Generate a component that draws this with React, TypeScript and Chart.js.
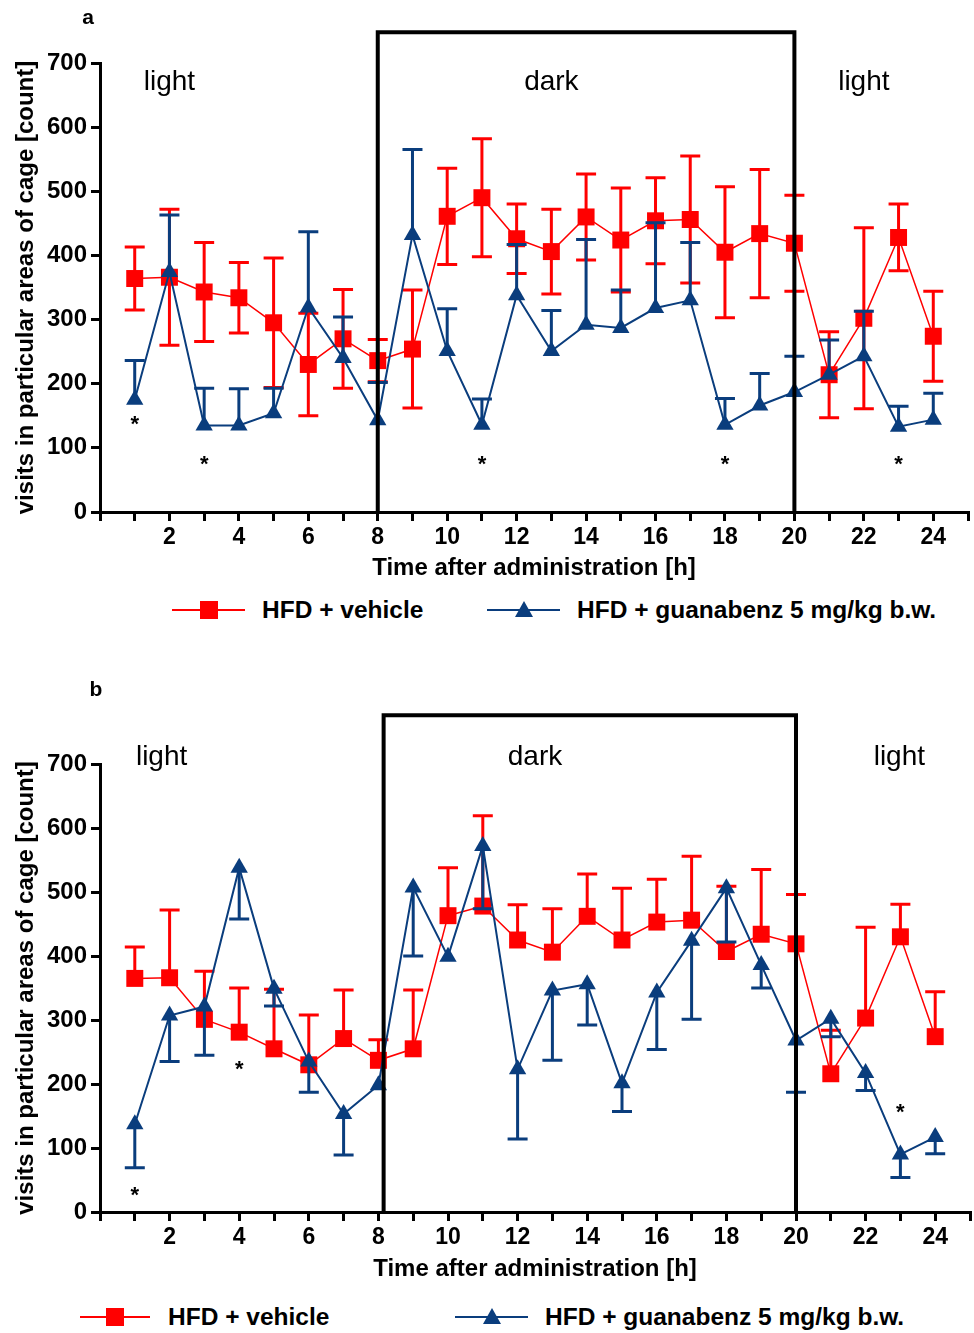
import React, { useEffect, useRef } from 'react';
import { Chart, registerables } from 'chart.js';

Chart.register(...registerables);

// ---------------- data ----------------
const hours = [1, 2, 3, 4, 5, 6, 7, 8, 9, 10, 11, 12, 13, 14, 15, 16, 17, 18, 19, 20, 21, 22, 23, 24];
const xTickValues = [0, 1, 2, 3, 4, 5, 6, 7, 8, 9, 10, 11, 12, 13, 14, 15, 16, 17, 18, 19, 20, 21, 22, 23, 24, 25];
const xTickLabels = ['2', '4', '6', '8', '10', '12', '14', '16', '18', '20', '22', '24'];
const yTickValues = [0, 100, 200, 300, 400, 500, 600, 700];

// panel a
const vehicleA = [364, 366, 343, 334, 295, 230, 270, 236, 254, 461, 490, 426, 406, 460, 424, 454, 456, 405, 434, 419, 214, 302, 428, 274];
const vehicleErrA = [49, 106, 77, 55, 101, 80, 77, 33, 92, 75, 92, 54, 66, 67, 81, 67, 99, 102, 100, 75, 67, 141, 52, 70];
const guanabenzA = [175, 374, 135, 135, 154, 319, 240, 143, 432, 251, 136, 338, 251, 292, 287, 318, 330, 136, 166, 187, 214, 243, 133, 144];
const guanabenzErrUpA = [61, 89, 58, 57, 39, 118, 64, 59, 133, 66, 40, 79, 63, 133, 59, 133, 90, 41, 50, 56, 54, 70, 32, 41];

// panel b
const vehicleB = [365, 366, 301, 281, 255, 230, 271, 237, 255, 463, 478, 425, 406, 462, 425, 453, 456, 407, 434, 419, 216, 303, 430, 274];
const vehicleErrUpB = [49, 106, 75, 69, 93, 78, 76, 32, 92, 75, 141, 55, 68, 66, 81, 67, 100, 102, 101, 77, 68, 142, 51, 70];
const guanabenzB = [137, 307, 321, 538, 349, 235, 153, 198, 507, 399, 572, 223, 346, 356, 201, 343, 424, 506, 386, 268, 302, 217, 90, 117];
const guanabenzErrDownB = [68, 72, 76, 80, 27, 48, 64, 0, 107, 0, 98, 109, 109, 64, 44, 89, 123, 84, 36, 81, 28, 27, 36, 26];

// annotations
const starsAX = [1, 3, 11, 18, 23];
const starsAY = [147, 84, 84, 84, 84];
const starsBX = [1, 4, 23];
const starsBY = [36, 233, 166];
const phaseLabels = ['light', 'dark', 'light'];
const phaseXA = [2, 13, 22];
const phaseYA = 670;
const phaseXB = [1.77, 12.5, 22.97];
const phaseYB = 711;
const darkBoxA = [8, 20, 748];
const darkBoxB = [8.15, 20, 776];

const seriesNames = ['HFD + vehicle', 'HFD + guanabenz 5 mg/kg b.w.'];

const RED = '#ff0000';
const BLUE = '#0a3d7d';
const FONT = '"Liberation Sans", Arial, Helvetica, sans-serif';

type PanelCfg = {
  letter: string;
  letterPos: [number, number];
  vehicle: number[];
  vehUp: number[];
  vehDown: number[];
  guan: number[];
  guanUp: number[];
  guanDown: number[];
  starsX: number[];
  starsY: number[];
  phaseX: number[];
  phaseY: number;
  box: number[];
  padTop: number;
  padRight: number;
  xHeight: number;
  canvasHeight: number;
};

const zeros = hours.map(() => 0);

const panelA: PanelCfg = {
  letter: 'a',
  letterPos: [88, 18],
  vehicle: vehicleA,
  vehUp: vehicleErrA,
  vehDown: vehicleErrA,
  guan: guanabenzA,
  guanUp: guanabenzErrUpA,
  guanDown: zeros,
  starsX: starsAX,
  starsY: starsAY,
  phaseX: phaseXA,
  phaseY: phaseYA,
  box: darkBoxA,
  padTop: 63,
  padRight: 6,
  xHeight: 71,
  canvasHeight: 583,
};

const panelB: PanelCfg = {
  letter: 'b',
  letterPos: [96, 30],
  vehicle: vehicleB,
  vehUp: vehicleErrUpB,
  vehDown: zeros,
  guan: guanabenzB,
  guanUp: zeros,
  guanDown: guanabenzErrDownB,
  starsX: starsBX,
  starsY: starsBY,
  phaseX: phaseXB,
  phaseY: phaseYB,
  box: darkBoxB,
  padTop: 104,
  padRight: 4,
  xHeight: 72,
  canvasHeight: 624,
};

function makePlugin(cfg: PanelCfg) {
  const errs = [
    { up: cfg.vehUp, down: cfg.vehDown, vals: cfg.vehicle, color: RED },
    { up: cfg.guanUp, down: cfg.guanDown, vals: cfg.guan, color: BLUE },
  ];
  return {
    id: 'panelDecor',
    beforeDatasetDraw(chart: any, args: any) {
      const e = errs[args.index];
      if (!e) return;
      const ctx = chart.ctx;
      const xs = chart.scales.x;
      const ys = chart.scales.y;
      ctx.save();
      ctx.strokeStyle = e.color;
      ctx.lineWidth = 3;
      const cap = 10;
      hours.forEach((h, i) => {
        const px = xs.getPixelForValue(h);
        const v = e.vals[i];
        const top = v + (e.up[i] || 0);
        const bot = v - (e.down[i] || 0);
        const pt = ys.getPixelForValue(top);
        const pb = ys.getPixelForValue(bot);
        ctx.beginPath();
        ctx.moveTo(px, pt);
        ctx.lineTo(px, pb);
        if (e.up[i] > 0) {
          ctx.moveTo(px - cap, pt);
          ctx.lineTo(px + cap, pt);
        }
        if (e.down[i] > 0) {
          ctx.moveTo(px - cap, pb);
          ctx.lineTo(px + cap, pb);
        }
        ctx.stroke();
      });
      ctx.restore();
    },
    afterDatasetsDraw(chart: any) {
      const ctx = chart.ctx;
      const xs = chart.scales.x;
      const ys = chart.scales.y;
      ctx.save();
      // dark phase box
      const x0 = xs.getPixelForValue(cfg.box[0]);
      const x1 = xs.getPixelForValue(cfg.box[1]);
      const yt = ys.getPixelForValue(cfg.box[2]);
      const yb = ys.getPixelForValue(0);
      ctx.strokeStyle = '#000';
      ctx.lineWidth = 4;
      ctx.beginPath();
      ctx.moveTo(x0, yb);
      ctx.lineTo(x0, yt);
      ctx.lineTo(x1, yt);
      ctx.lineTo(x1, yb);
      ctx.stroke();
      // phase labels
      ctx.fillStyle = '#000';
      ctx.font = `28px ${FONT}`;
      ctx.textAlign = 'center';
      ctx.textBaseline = 'middle';
      phaseLabels.forEach((t, i) => {
        ctx.fillText(t, xs.getPixelForValue(cfg.phaseX[i]), ys.getPixelForValue(cfg.phaseY));
      });
      // significance stars
      ctx.font = `bold 22px ${FONT}`;
      ctx.textBaseline = 'alphabetic';
      cfg.starsX.forEach((sx, i) => {
        ctx.fillText('*', xs.getPixelForValue(sx), ys.getPixelForValue(cfg.starsY[i]) + 13);
      });
      // panel letter
      ctx.font = `bold 21px ${FONT}`;
      ctx.textBaseline = 'middle';
      ctx.fillText(cfg.letter, cfg.letterPos[0], cfg.letterPos[1]);
      ctx.restore();
    },
  };
}

function Panel({ cfg, top }: { cfg: PanelCfg; top: number }) {
  const ref = useRef<HTMLCanvasElement | null>(null);
  useEffect(() => {
    if (!ref.current) return;
    const chart = new Chart(ref.current, {
      type: 'line',
      data: {
        datasets: [
          {
            label: seriesNames[0],
            data: hours.map((h, i) => ({ x: h, y: cfg.vehicle[i] })),
            borderColor: RED,
            backgroundColor: RED,
            borderWidth: 1.5,
            pointStyle: 'rect',
            pointRadius: 12,
            pointBorderWidth: 0,
            pointBackgroundColor: RED,
            tension: 0,
            order: 1,
            clip: false,
          } as any,
          {
            label: seriesNames[1],
            data: hours.map((h, i) => ({ x: h, y: cfg.guan[i] })),
            borderColor: BLUE,
            backgroundColor: BLUE,
            borderWidth: 2,
            pointStyle: 'triangle',
            pointRadius: 10,
            pointBorderWidth: 0,
            pointBackgroundColor: BLUE,
            tension: 0,
            order: 0,
            clip: false,
          } as any,
        ],
      },
      options: {
        responsive: false,
        animation: false,
        devicePixelRatio: 1,
        layout: { autoPadding: false, padding: { top: cfg.padTop, right: cfg.padRight, left: 0, bottom: 0 } },
        plugins: { legend: { display: false }, tooltip: { enabled: false } },
        scales: {
          x: {
            type: 'linear',
            min: 0,
            max: 25,
            afterBuildTicks: (s: any) => {
              s.ticks = xTickValues.map((v) => ({ value: v }));
            },
            afterFit: (s: any) => {
              s.height = cfg.xHeight;
              s.paddingLeft = 0;
              s.paddingRight = 0;
            },
            ticks: {
              autoSkip: false,
              maxRotation: 0,
              padding: 3,
              color: '#000',
              font: { family: FONT, size: 23, weight: 'bold' },
              callback: (v: any) => (xTickLabels.includes(String(v)) ? String(v) : ''),
            },
            grid: { drawOnChartArea: false, drawTicks: true, tickLength: 9, color: '#000', lineWidth: 3 },
            border: { display: true, color: '#000', width: 3 },
            title: {
              display: true,
              text: 'Time after administration [h]',
              color: '#000',
              font: { family: FONT, size: 24, weight: 'bold' },
              padding: { top: 0, bottom: 0 },
            },
          },
          y: {
            type: 'linear',
            min: 0,
            max: 700,
            afterBuildTicks: (s: any) => {
              s.ticks = yTickValues.map((v) => ({ value: v }));
            },
            afterFit: (s: any) => {
              s.width = 100;
            },
            ticks: {
              padding: 4,
              color: '#000',
              font: { family: FONT, size: 24, weight: 'bold' },
            },
            grid: { drawOnChartArea: false, drawTicks: true, tickLength: 9, color: '#000', lineWidth: 3 },
            border: { display: true, color: '#000', width: 3 },
            title: {
              display: true,
              text: 'visits in particular areas of cage [count]',
              color: '#000',
              font: { family: FONT, size: 24, weight: 'bold' },
              padding: { top: 12, bottom: 0 },
            },
          },
        },
      } as any,
      plugins: [makePlugin(cfg)],
    });
    return () => chart.destroy();
  }, [cfg]);
  return (
    <div style={{ position: 'absolute', left: 0, top, width: 974, height: cfg.canvasHeight }}>
      <canvas ref={ref} width={974} height={cfg.canvasHeight} style={{ display: 'block', width: 974, height: cfg.canvasHeight }} />
    </div>
  );
}

function LegendItem({ kind, lineLeft, lineRight, textLeft, cy }: { kind: 'square' | 'triangle'; lineLeft: number; lineRight: number; textLeft: number; cy: number }) {
  const color = kind === 'square' ? RED : BLUE;
  const mid = (lineLeft + lineRight) / 2;
  return (
    <>
      <div style={{ position: 'absolute', left: lineLeft, top: cy - 1, width: lineRight - lineLeft, height: 2, background: color }} />
      {kind === 'square' ? (
        <div style={{ position: 'absolute', left: mid - 9, top: cy - 9, width: 18, height: 18, background: color }} />
      ) : (
        <div
          style={{
            position: 'absolute',
            left: mid - 9,
            top: cy - 9,
            width: 0,
            height: 0,
            borderLeft: '9px solid transparent',
            borderRight: '9px solid transparent',
            borderBottom: `16px solid ${color}`,
          }}
        />
      )}
      <div
        style={{
          position: 'absolute',
          left: textLeft,
          top: cy - 15,
          height: 30,
          lineHeight: '30px',
          fontFamily: FONT,
          fontWeight: 'bold',
          fontSize: 24.5,
          color: '#000',
          whiteSpace: 'nowrap',
        }}
      >
        {kind === 'square' ? seriesNames[0] : seriesNames[1]}
      </div>
    </>
  );
}

export default function App() {
  useEffect(() => {
    document.body.style.margin = '0';
    document.body.style.background = '#fff';
  }, []);
  return (
    <div style={{ position: 'relative', width: 974, height: 1333, background: '#fff', overflow: 'hidden' }}>
      <Panel cfg={panelA} top={0} />
      <LegendItem kind="square" lineLeft={172} lineRight={245} textLeft={262} cy={610} />
      <LegendItem kind="triangle" lineLeft={487} lineRight={560} textLeft={577} cy={610} />
      <Panel cfg={panelB} top={660} />
      <LegendItem kind="square" lineLeft={80} lineRight={150} textLeft={168} cy={1317} />
      <LegendItem kind="triangle" lineLeft={455} lineRight={528} textLeft={545} cy={1317} />
    </div>
  );
}
